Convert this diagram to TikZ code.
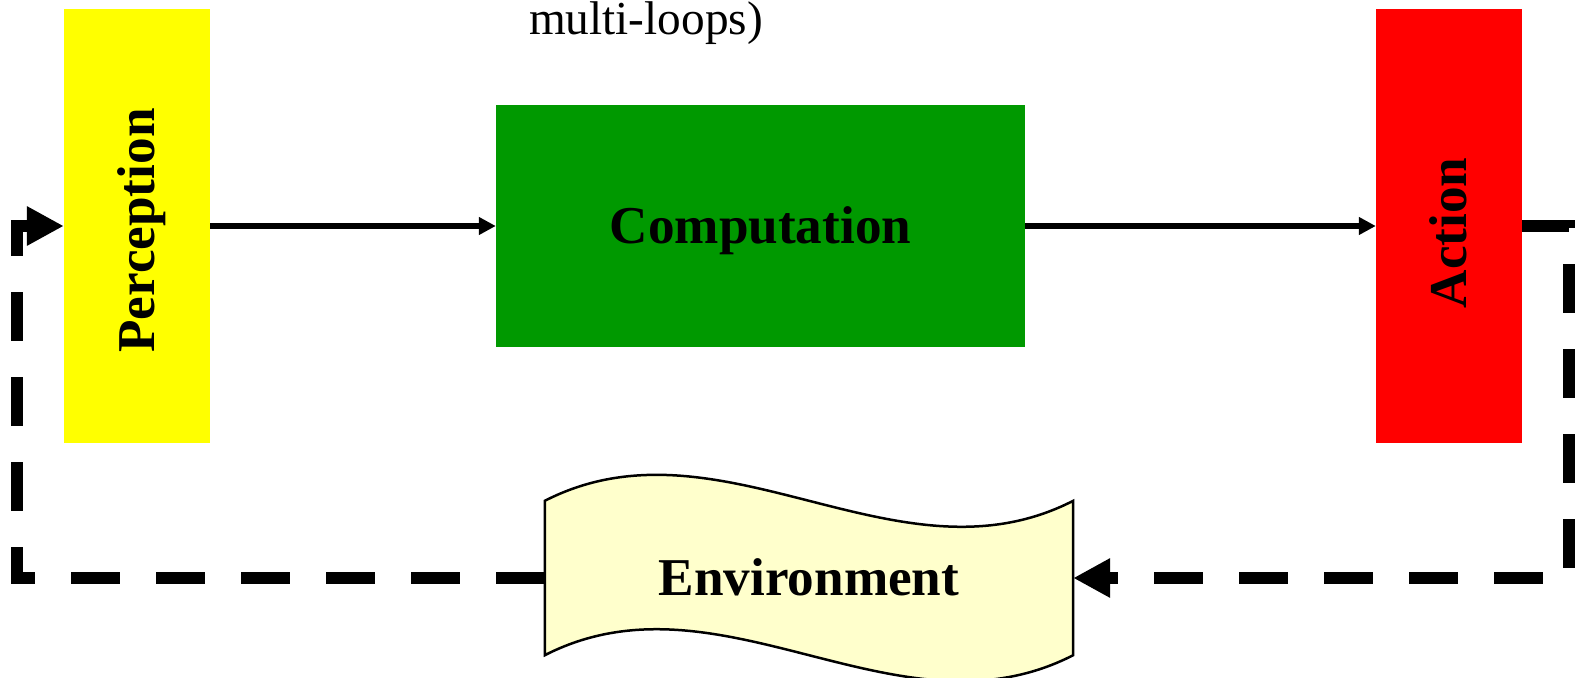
\documentclass[tikz,border=0pt]{standalone}
\usepackage{fontspec}
\setmainfont{Liberation Serif}
\usepackage{xcolor}
\usepackage{tikz}
\usetikzlibrary{arrows.meta}
\usetikzlibrary{backgrounds}
\usetikzlibrary{positioning}
\definecolor{percyellow}{RGB}{255,255,0}
\definecolor{compgreen}{RGB}{0,153,0}
\definecolor{actred}{RGB}{255,0,0}
\definecolor{envfill}{RGB}{255,255,204}
\newcommand{\boxstrut}{\rule[-0.216em]{0pt}{1.107em}}

\begin{document}
\begin{tikzpicture}[x=1pt,y=-1pt,node distance=623.5pt]
 				 \tikzstyle{block}=[rectangle, inner sep=0pt, text=black, font=\fontsize{53.2}{60}\selectfont\bfseries]
 				 \tikzstyle{flow}=[-{Triangle[length=17pt,width=17pt]}, line width=5.7pt]
 				 \tikzstyle{feedback}=[-{Triangle[length=37pt,width=37pt]}, line width=12.5pt, dash pattern=on 49pt off 36pt, line join=miter]
 				 \useasboundingbox (0,0) rectangle (1576,677);
 					 \node[block, fill=percyellow, minimum width=146pt, minimum height=434pt] (P) at (137,226) {\rotatebox{90}{\boxstrut Perception\hspace{9pt}}};
 					 \node[block, fill=compgreen, minimum width=529pt, minimum height=242pt] (C) [right of=P] {\boxstrut Computation};
 					 \node[block, fill=actred, minimum width=146pt, minimum height=434pt] (A) [right of=C, node distance=688.5pt] {\rotatebox{90}{\boxstrut Action\hspace{14pt}}};
 					 \node[block, minimum width=528pt, minimum height=154pt] (E) at (809,578) {\boxstrut Environment};
 					 \node[anchor=base, inner sep=0pt, font=\fontsize{47.3}{54}\selectfont] (T) at (646,34.3) {multi-loops)};
 					 \coordinate (L) at (17,226);
 					 \coordinate (R) at (1569,226);
				\begin{scope}[on background layer]
				\draw[line width=2.5pt, fill=envfill]
				(E.north west) .. controls +(176,-90) and +(-176,90) .. (E.north east)
				-- (E.south east) .. controls +(-176,90) and +(176,-90) .. (E.south west) -- cycle;
				\end{scope}
				\draw[flow] (P) -- (C);
				\draw[flow] (C) -- (A);
				\draw[feedback] (A.east) -- (R) |- (E.east);
				\draw[feedback] (E.west) -| (L) -- (P.west);
\end{tikzpicture}
\end{document}
